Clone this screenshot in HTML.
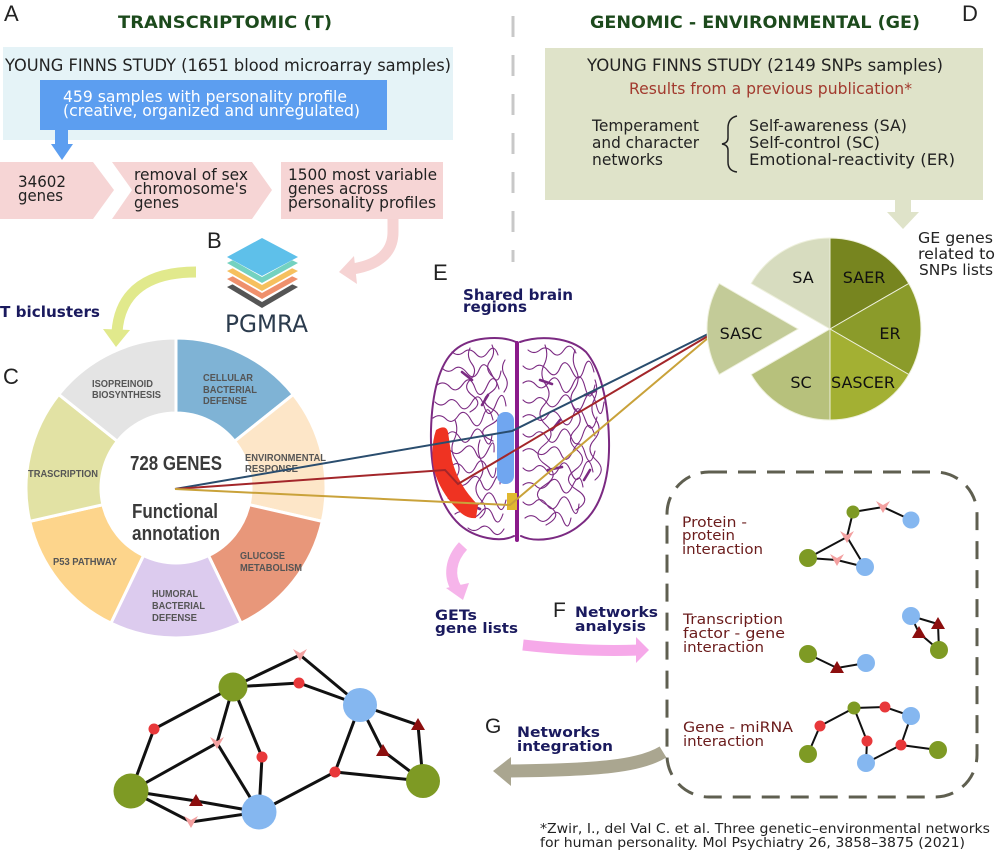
<!DOCTYPE html>
<html><head><meta charset="utf-8">
<style>
html,body{margin:0;padding:0;background:#fff;}
svg{display:block;}
.v{font-family:"DejaVu Sans","Liberation Sans",sans-serif;}
.a{font-family:"Liberation Sans",Arial,sans-serif;}
</style></head>
<body>
<svg width="995" height="852" viewBox="0 0 995 852" xmlns="http://www.w3.org/2000/svg">
<defs>
<path id="tdn" d="M-7,-6 L0,-2 L7,-6 L0,6 Z" fill="#f3a0a0"/>
<path id="tup" d="M0,-7 L7,5 L-7,5 Z" fill="#8c0e0e"/>
</defs>
<rect width="995" height="852" fill="#fff"/>

<!-- ===== Section A ===== -->
<text class="a" x="4" y="21" font-size="22" fill="#222">A</text>
<text class="v" x="118" y="28" font-size="17" font-weight="bold" fill="#1c4a1c" textLength="214" lengthAdjust="spacingAndGlyphs">TRANSCRIPTOMIC (T)</text>
<rect x="3" y="47" width="450" height="93" fill="#e5f3f7"/>
<text class="v" x="5" y="71" font-size="17" fill="#222" textLength="446" lengthAdjust="spacingAndGlyphs">YOUNG FINNS STUDY (1651 blood microarray samples)</text>
<rect x="40" y="80" width="347" height="50" fill="#5c9ef0"/>
<text class="v" x="63" y="102" font-size="16" fill="#fff" textLength="284" lengthAdjust="spacingAndGlyphs">459 samples with personality profile</text>
<text class="v" x="63" y="116" font-size="16" fill="#fff" textLength="297" lengthAdjust="spacingAndGlyphs">(creative, organized and unregulated)</text>
<rect x="55" y="129" width="13" height="16" fill="#5c9ef0"/>
<polygon points="51,144 73,144 62,160" fill="#5c9ef0"/>

<polygon points="0,162 93,162 114,190 93,219 0,219" fill="#f6d5d5"/>
<polygon points="112,162 252,162 272,190 252,219 112,219 132,190" fill="#f6d5d5"/>
<rect x="281" y="162" width="162" height="57" fill="#f6d5d5"/>
<text class="v" x="18" y="187" font-size="16" fill="#222" textLength="48" lengthAdjust="spacingAndGlyphs">34602</text>
<text class="v" x="18" y="201" font-size="16" fill="#222" textLength="45" lengthAdjust="spacingAndGlyphs">genes</text>
<text class="v" x="134" y="180" font-size="16" fill="#222" textLength="114" lengthAdjust="spacingAndGlyphs">removal of sex</text>
<text class="v" x="134" y="194" font-size="16" fill="#222" textLength="113" lengthAdjust="spacingAndGlyphs">chromosome's</text>
<text class="v" x="134" y="208" font-size="16" fill="#222" textLength="45" lengthAdjust="spacingAndGlyphs">genes</text>
<text class="v" x="288" y="180" font-size="16" fill="#222" textLength="149" lengthAdjust="spacingAndGlyphs">1500 most variable</text>
<text class="v" x="288" y="194" font-size="16" fill="#222" textLength="100" lengthAdjust="spacingAndGlyphs">genes across</text>
<text class="v" x="288" y="208" font-size="16" fill="#222" textLength="148" lengthAdjust="spacingAndGlyphs">personality profiles</text>

<!-- pink arrow to PGMRA -->
<path d="M393,219 L393,232 C393,257 372,266 352,269" fill="none" stroke="#f6d3d3" stroke-width="11"/>
<polygon points="339,272 354,256 357,284" fill="#f6d3d3"/>

<!-- ===== Section B ===== -->
<text class="a" x="207" y="248" font-size="22" fill="#222">B</text>
<g>
<polygon points="262,270 298,287 262,308 227,287" fill="#555"/>
<polygon points="262,264 298,281 262,302 227,281" fill="#fff"/>
<polygon points="262,262 298,279 262,299 227,279" fill="#ef906c"/>
<polygon points="262,256 298,273 262,293 227,273" fill="#fff"/>
<polygon points="262,254 298,271 262,291 227,271" fill="#f6c05e"/>
<polygon points="262,248 298,265 262,285 227,265" fill="#fff"/>
<polygon points="262,246 298,263 262,283 227,263" fill="#74d2c0"/>
<polygon points="262,240 298,257 262,277 227,257" fill="#fff"/>
<polygon points="262,238 298,257 262,276 227,257" fill="#5ec0ea"/>
</g>
<text class="v" x="225" y="332" font-size="24" fill="#2b3b4d" textLength="83" lengthAdjust="spacingAndGlyphs">PGMRA</text>

<!-- yellow T biclusters arrow -->
<path d="M196,272 C150,272 120,290 117,332" fill="none" stroke="#e1e98c" stroke-width="11"/>
<polygon points="103,329 130,330 116,347" fill="#e1e98c"/>
<text class="v" x="0" y="317" font-size="15" font-weight="bold" fill="#1a1a5e" textLength="100" lengthAdjust="spacingAndGlyphs">T biclusters</text>

<!-- ===== Section C donut ===== -->
<text class="a" x="3" y="384" font-size="22" fill="#222">C</text>
<g stroke="#fff" stroke-width="3">
<path d="M176,338 A150,150 0 0 1 293.27,394.47 L234.64,441.24 A75,75 0 0 0 176,413 Z" fill="#7fb3d5"/>
<path d="M293.27,394.47 A150,150 0 0 1 322.24,521.38 L249.12,504.69 A75,75 0 0 0 234.64,441.24 Z" fill="#fde6c8"/>
<path d="M322.24,521.38 A150,150 0 0 1 241.09,623.15 L208.54,555.58 A75,75 0 0 0 249.12,504.69 Z" fill="#e8977a"/>
<path d="M241.09,623.15 A150,150 0 0 1 110.91,623.15 L143.46,555.58 A75,75 0 0 0 208.54,555.58 Z" fill="#dccbee"/>
<path d="M110.91,623.15 A150,150 0 0 1 29.76,521.38 L102.88,504.69 A75,75 0 0 0 143.46,555.58 Z" fill="#fdd58c"/>
<path d="M29.76,521.38 A150,150 0 0 1 58.73,394.47 L117.36,441.24 A75,75 0 0 0 102.88,504.69 Z" fill="#e2e2a4"/>
<path d="M58.73,394.47 A150,150 0 0 1 176,338 L176,413 A75,75 0 0 0 117.36,441.24 Z" fill="#e4e4e4"/>
</g>
<g class="a" font-size="10" font-weight="bold" fill="#555">
<text x="92" y="387" textLength="61" lengthAdjust="spacingAndGlyphs">ISOPREINOID</text>
<text x="92" y="398" textLength="69" lengthAdjust="spacingAndGlyphs">BIOSYNTHESIS</text>
<text x="203" y="381" textLength="50" lengthAdjust="spacingAndGlyphs">CELLULAR</text>
<text x="203" y="393" textLength="54" lengthAdjust="spacingAndGlyphs">BACTERIAL</text>
<text x="203" y="404" textLength="44" lengthAdjust="spacingAndGlyphs">DEFENSE</text>
<text x="245" y="461" textLength="81" lengthAdjust="spacingAndGlyphs">ENVIRONMENTAL</text>
<text x="245" y="472" textLength="53" lengthAdjust="spacingAndGlyphs">RESPONSE</text>
<text x="28" y="477" textLength="70" lengthAdjust="spacingAndGlyphs">TRASCRIPTION</text>
<text x="53" y="565" textLength="64" lengthAdjust="spacingAndGlyphs">P53 PATHWAY</text>
<text x="240" y="559" textLength="45" lengthAdjust="spacingAndGlyphs">GLUCOSE</text>
<text x="240" y="571" textLength="62" lengthAdjust="spacingAndGlyphs">METABOLISM</text>
<text x="152" y="597" textLength="46" lengthAdjust="spacingAndGlyphs">HUMORAL</text>
<text x="152" y="609" textLength="53" lengthAdjust="spacingAndGlyphs">BACTERIAL</text>
<text x="152" y="621" textLength="45" lengthAdjust="spacingAndGlyphs">DEFENSE</text>
</g>
<g class="a" font-weight="bold" fill="#3a3a3a">
<text x="130" y="470" font-size="20" textLength="92" lengthAdjust="spacingAndGlyphs">728 GENES</text>
<text x="132" y="518" font-size="20" textLength="86" lengthAdjust="spacingAndGlyphs">Functional</text>
<text x="132" y="540" font-size="20" textLength="88" lengthAdjust="spacingAndGlyphs">annotation</text>
</g>

<!-- ===== Divider ===== -->
<line x1="513" y1="16" x2="513" y2="262" stroke="#c8c8c8" stroke-width="3" stroke-dasharray="21 18"/>

<!-- ===== Section D ===== -->
<text class="v" x="590" y="28" font-size="17" font-weight="bold" fill="#1c4a1c" textLength="330" lengthAdjust="spacingAndGlyphs">GENOMIC - ENVIRONMENTAL (GE)</text>
<text class="a" x="962" y="21" font-size="22" fill="#222">D</text>
<rect x="545" y="48" width="438" height="152" fill="#dfe3c9"/>
<text class="v" x="587" y="71" font-size="17" fill="#222" textLength="356" lengthAdjust="spacingAndGlyphs">YOUNG FINNS STUDY (2149 SNPs samples)</text>
<text class="v" x="629" y="94" font-size="16" fill="#a23a2e" textLength="283" lengthAdjust="spacingAndGlyphs">Results from a previous publication*</text>
<text class="v" x="592" y="131" font-size="16" fill="#222" textLength="107" lengthAdjust="spacingAndGlyphs">Temperament</text>
<text class="v" x="592" y="148" font-size="16" fill="#222" textLength="107" lengthAdjust="spacingAndGlyphs">and character</text>
<text class="v" x="592" y="165" font-size="16" fill="#222" textLength="71" lengthAdjust="spacingAndGlyphs">networks</text>
<path d="M737,116 Q728,118 728,128 L728,138 Q728,143 722,144 Q728,145 728,150 L728,162 Q728,171 737,172" fill="none" stroke="#222" stroke-width="1.5"/>
<text class="v" x="749" y="131" font-size="16" fill="#222" textLength="158" lengthAdjust="spacingAndGlyphs">Self-awareness (SA)</text>
<text class="v" x="749" y="148" font-size="16" fill="#222" textLength="131" lengthAdjust="spacingAndGlyphs">Self-control (SC)</text>
<text class="v" x="749" y="165" font-size="16" fill="#222" textLength="206" lengthAdjust="spacingAndGlyphs">Emotional-reactivity (ER)</text>
<rect x="895" y="200" width="16" height="14" fill="#dfe3c9"/>
<polygon points="887,212 919,212 903,229" fill="#dfe3c9"/>
<text class="v" x="918" y="243" font-size="15" fill="#222" textLength="75" lengthAdjust="spacingAndGlyphs">GE genes</text>
<text class="v" x="918" y="259" font-size="15" fill="#222" textLength="77" lengthAdjust="spacingAndGlyphs">related to</text>
<text class="v" x="919" y="275" font-size="15" fill="#222" textLength="74" lengthAdjust="spacingAndGlyphs">SNPs lists</text>

<!-- ===== Section E brain ===== -->
<text class="a" x="433" y="280" font-size="22" fill="#222">E</text>
<text class="v" x="463" y="300" font-size="15" font-weight="bold" fill="#1a1a5e" textLength="110" lengthAdjust="spacingAndGlyphs">Shared brain</text>
<text class="v" x="463" y="312" font-size="15" font-weight="bold" fill="#1a1a5e" textLength="64" lengthAdjust="spacingAndGlyphs">regions</text>

<g fill="none" stroke="#7b2a82" stroke-linecap="round">
<path d="M516,342 C500,335 470,337 455,350 C438,365 432,395 431,430 C430,470 438,505 460,525 C475,538 500,543 514,536" stroke-width="2"/>
<path d="M520,342 C540,335 570,337 586,352 C601,370 608,400 609,440 C610,480 600,510 580,525 C562,540 535,543 521,536" stroke-width="2"/>
<line x1="517" y1="343" x2="517" y2="540" stroke="#8a1a8a" stroke-width="4"/>
<g stroke-width="1.1">
<path d="M452,352 q6,5 12,0 t12,2 t12,-2 t10,3"/>
<path d="M442,368 q6,6 12,1 t13,4 t12,-3 t12,3 t10,-2"/>
<path d="M437,385 q7,-5 13,2 t13,-3 t12,4 t12,-2 t12,3"/>
<path d="M435,402 q6,6 12,0 t12,3 t13,-3 t12,4 t12,-2 t10,2"/>
<path d="M433,418 q7,-5 13,1 t12,-3 t13,4 t12,-3 t10,3"/>
<path d="M436,434 q6,6 12,0 t12,4 t12,-3 t12,2 t8,-2"/>
<path d="M438,450 q7,-5 13,1 t13,-2 t12,4 t12,-3 t6,2"/>
<path d="M440,466 q6,6 12,0 t12,3 t12,-3 t12,4 t8,-2"/>
<path d="M444,482 q7,-5 13,1 t13,-3 t12,4 t12,-2 t6,2"/>
<path d="M448,498 q6,6 12,0 t12,3 t12,-3 t12,4 t10,-2"/>
<path d="M455,514 q7,-5 13,1 t13,-3 t12,4 t10,-2"/>
<path d="M468,528 q6,5 12,0 t12,3 t12,-2"/>
<path d="M470,348 q-4,8 2,16 t-2,16 t3,16 t-3,16"/>
<path d="M492,345 q4,8 -2,16 t3,16 t-3,16 t2,16 t-2,16 t3,16"/>
<path d="M455,420 q4,10 -1,20 t2,20 t-2,20"/>
<path d="M480,440 q-4,10 1,20 t-2,20 t2,20 t-1,18"/>
<path d="M505,360 q-5,8 0,16 t-1,16"/>
<path d="M528,350 q6,5 12,0 t12,2 t12,-2 t12,3"/>
<path d="M523,366 q6,6 12,1 t13,4 t12,-3 t12,3 t12,-2 t10,3"/>
<path d="M523,383 q7,-5 13,2 t13,-3 t12,4 t12,-2 t12,3 t10,-2"/>
<path d="M523,400 q6,6 12,0 t12,3 t13,-3 t12,4 t12,-2 t12,2 t8,-2"/>
<path d="M523,417 q7,-5 13,1 t12,-3 t13,4 t12,-3 t12,3 t12,-2"/>
<path d="M523,434 q6,6 12,0 t12,4 t12,-3 t12,2 t12,-3 t12,2"/>
<path d="M523,451 q7,-5 13,1 t13,-2 t12,4 t12,-3 t12,2 t10,-2"/>
<path d="M523,468 q6,6 12,0 t12,3 t12,-3 t12,4 t12,-2 t10,2"/>
<path d="M523,485 q7,-5 13,1 t13,-3 t12,4 t12,-2 t10,2"/>
<path d="M523,502 q6,6 12,0 t12,3 t12,-3 t12,4 t8,-2"/>
<path d="M525,518 q7,-5 13,1 t13,-3 t12,4 t8,-2"/>
<path d="M545,345 q4,10 -1,20 t2,20 t-2,20 t2,20 t-2,20 t2,20 t-1,20 t2,20 t-1,20"/>
<path d="M575,350 q-4,10 1,20 t-2,20 t2,20 t-1,20 t2,20 t-2,20 t2,20 t-1,20"/>
<path d="M595,380 q4,10 -1,20 t2,20 t-2,20 t2,20 t-1,20"/>
</g>
<g stroke-width="2.6">
<path d="M462,372 l10,8"/><path d="M488,395 l-6,10"/><path d="M540,380 l12,4"/><path d="M560,420 l-8,10"/>
<path d="M585,395 l10,-4"/><path d="M548,470 l14,-3"/><path d="M470,505 l10,4"/><path d="M590,470 l-6,10"/>
</g>
</g>
<path d="M436,430 Q446,424 448,432 L452,460 Q458,485 478,505 L476,518 Q466,519 458,510 Q440,492 434,470 Q430,448 436,430 Z" fill="#ef3322"/>
<rect x="497" y="412" width="17" height="72" rx="8" fill="#70a6f0"/>
<rect x="507" y="493" width="10" height="17" fill="#e0b830"/>

<!-- connector lines -->
<g fill="none" stroke-width="2">
<polyline points="175,489 512,431 708,334" stroke="#2a4d6e"/>
<polyline points="175,489 445,470 458,484 708,336" stroke="#a3262a"/>
<polyline points="175,489 510,505 708,338" stroke="#c9a23a"/>
</g>

<!-- pie -->
<g stroke="#eef0dc" stroke-width="1">
<path d="M830,329 L751.2,283.5 A91,91 0 0 1 830,238 Z" fill="#d7dcbf"/>
<path d="M830,329 L830,238 A91,91 0 0 1 908.8,283.5 Z" fill="#77851f"/>
<path d="M830,329 L908.8,283.5 A91,91 0 0 1 908.8,374.5 Z" fill="#8b9b2a"/>
<path d="M830,329 L908.8,374.5 A91,91 0 0 1 830,420 Z" fill="#a3b033"/>
<path d="M830,329 L830,420 A91,91 0 0 1 751.2,374.5 Z" fill="#b7c17c"/>
<path d="M798,329 L719.2,374.5 A91,91 0 0 1 719.2,283.5 Z" fill="#c3cb98"/>
</g>
<g class="v" font-size="16" fill="#111" text-anchor="middle">
<text x="803" y="283">SA</text>
<text x="864" y="283">SAER</text>
<text x="890" y="339">ER</text>
<text x="741" y="339">SASC</text>
<text x="801" y="388">SC</text>
<text x="863" y="388">SASCER</text>
</g>

<!-- pink arrow from brain -->
<path d="M463,546 C450,560 449,576 456,588" fill="none" stroke="#f6b4ea" stroke-width="11"/>
<polygon points="446,588 469,583 463,600" fill="#f6b4ea"/>

<!-- F / GETs -->
<text class="v" x="435" y="620" font-size="14.5" font-weight="bold" fill="#1a1a5e" textLength="42" lengthAdjust="spacingAndGlyphs">GETs</text>
<text class="v" x="435" y="633" font-size="14.5" font-weight="bold" fill="#1a1a5e" textLength="83" lengthAdjust="spacingAndGlyphs">gene lists</text>
<text class="a" x="553" y="617" font-size="21" fill="#222">F</text>
<text class="v" x="575" y="617" font-size="14.5" font-weight="bold" fill="#1a1a5e" textLength="83" lengthAdjust="spacingAndGlyphs">Networks</text>
<text class="v" x="575" y="631" font-size="14.5" font-weight="bold" fill="#1a1a5e" textLength="71" lengthAdjust="spacingAndGlyphs">analysis</text>
<path d="M523,645 Q585,652 638,650" fill="none" stroke="#f6a9e9" stroke-width="11"/>
<polygon points="636,637 649,650 636,663" fill="#f6a9e9"/>

<!-- G -->
<text class="a" x="485" y="733" font-size="21" fill="#222">G</text>
<text class="v" x="517" y="737" font-size="14.5" font-weight="bold" fill="#1a1a5e" textLength="83" lengthAdjust="spacingAndGlyphs">Networks</text>
<text class="v" x="517" y="751" font-size="14.5" font-weight="bold" fill="#1a1a5e" textLength="96" lengthAdjust="spacingAndGlyphs">integration</text>
<path d="M663,752 C640,766 600,770 508,771" fill="none" stroke="#aaa690" stroke-width="13"/>
<polygon points="493,771 511,757 511,786" fill="#aaa690"/>

<!-- network box -->
<rect x="667" y="472" width="310" height="325" rx="42" fill="none" stroke="#5f5f50" stroke-width="3" stroke-dasharray="18 11"/>
<g class="v" font-size="14.5" fill="#6b1c1c">
<text x="682" y="527" textLength="65" lengthAdjust="spacingAndGlyphs">Protein -</text>
<text x="682" y="540" textLength="53" lengthAdjust="spacingAndGlyphs">protein</text>
<text x="682" y="554" textLength="81" lengthAdjust="spacingAndGlyphs">interaction</text>
<text x="683" y="624" textLength="100" lengthAdjust="spacingAndGlyphs">Transcription</text>
<text x="683" y="638" textLength="102" lengthAdjust="spacingAndGlyphs">factor - gene</text>
<text x="683" y="652" textLength="81" lengthAdjust="spacingAndGlyphs">interaction</text>
<text x="683" y="732" textLength="110" lengthAdjust="spacingAndGlyphs">Gene - miRNA</text>
<text x="683" y="746" textLength="81" lengthAdjust="spacingAndGlyphs">interaction</text>
</g>
<g stroke="#111" stroke-width="2" fill="none">
<polyline points="853,512 883,507 911,520"/>
<polyline points="853,512 847,537 808,558"/>
<line x1="847" y1="537" x2="865" y2="567"/>
<polyline points="808,558 837,560 865,567"/>
<polyline points="911,616 938,624 939,650"/>
<polyline points="911,616 919,633 939,650"/>
<polyline points="808,654 837,668 866,663"/>
<polyline points="808,754 820,726 854,708 885,707 911,716 901,745 938,750"/>
<polyline points="854,708 867,741 866,763 901,745"/>
</g>
<g>
<circle cx="853" cy="512" r="6.5" fill="#7e9a24"/>
<circle cx="911" cy="520" r="8.5" fill="#85b7f0"/>
<circle cx="808" cy="558" r="9" fill="#7e9a24"/>
<circle cx="865" cy="567" r="9" fill="#85b7f0"/>
<use href="#tdn" x="883" y="507"/>
<use href="#tdn" x="847" y="537"/>
<use href="#tdn" x="837" y="560"/>
<circle cx="911" cy="616" r="9" fill="#85b7f0"/>
<circle cx="939" cy="650" r="9" fill="#7e9a24"/>
<circle cx="808" cy="654" r="9" fill="#7e9a24"/>
<circle cx="866" cy="663" r="9" fill="#85b7f0"/>
<use href="#tup" x="938" y="624"/>
<use href="#tup" x="919" y="633"/>
<use href="#tup" x="837" y="668"/>
<circle cx="854" cy="708" r="6.5" fill="#7e9a24"/>
<circle cx="911" cy="716" r="9" fill="#85b7f0"/>
<circle cx="808" cy="754" r="9" fill="#7e9a24"/>
<circle cx="866" cy="763" r="9" fill="#85b7f0"/>
<circle cx="938" cy="750" r="9" fill="#7e9a24"/>
<circle cx="885" cy="707" r="5.5" fill="#e8383a"/>
<circle cx="820" cy="726" r="5.5" fill="#e8383a"/>
<circle cx="867" cy="741" r="5.5" fill="#e8383a"/>
<circle cx="901" cy="745" r="5.5" fill="#e8383a"/>
</g>

<!-- bottom network -->
<g stroke="#111" stroke-width="3" fill="none">
<polyline points="233,687 300,655 360,705"/>
<polyline points="233,687 299,683 360,705"/>
<polyline points="233,687 154,729 131,791"/>
<polyline points="233,687 217,743 131,791"/>
<line x1="217" y1="743" x2="259" y2="812"/>
<polyline points="233,687 262,757 259,812"/>
<polyline points="360,705 418,725 423,781"/>
<polyline points="360,705 383,751 423,781"/>
<polyline points="360,705 335,772 259,812"/>
<line x1="335" y1="772" x2="423" y2="781"/>
<polyline points="131,791 196,801 259,812"/>
<polyline points="131,791 191,822 259,812"/>
</g>
<g>
<circle cx="233" cy="687" r="14.5" fill="#7e9a24"/>
<circle cx="360" cy="705" r="17" fill="#85b7f0"/>
<circle cx="131" cy="791" r="17.5" fill="#7e9a24"/>
<circle cx="423" cy="781" r="17" fill="#7e9a24"/>
<circle cx="259" cy="812" r="17.5" fill="#85b7f0"/>
<circle cx="299" cy="683" r="5.5" fill="#e8383a"/>
<circle cx="154" cy="729" r="5.5" fill="#e8383a"/>
<circle cx="262" cy="757" r="5.5" fill="#e8383a"/>
<circle cx="335" cy="772" r="5.5" fill="#e8383a"/>
<use href="#tdn" x="300" y="655"/>
<use href="#tdn" x="217" y="743"/>
<use href="#tdn" x="191" y="822"/>
<use href="#tup" x="418" y="725"/>
<use href="#tup" x="383" y="751"/>
<use href="#tup" x="196" y="801"/>
</g>

<!-- citation -->
<text class="v" x="540" y="833" font-size="13.5" fill="#222" textLength="450" lengthAdjust="spacingAndGlyphs">*Zwir, I., del Val C. et al. Three genetic–environmental networks</text>
<text class="v" x="540" y="847" font-size="13.5" fill="#222" textLength="425" lengthAdjust="spacingAndGlyphs">for human personality. Mol Psychiatry 26, 3858–3875 (2021)</text>
</svg>
</body></html>
